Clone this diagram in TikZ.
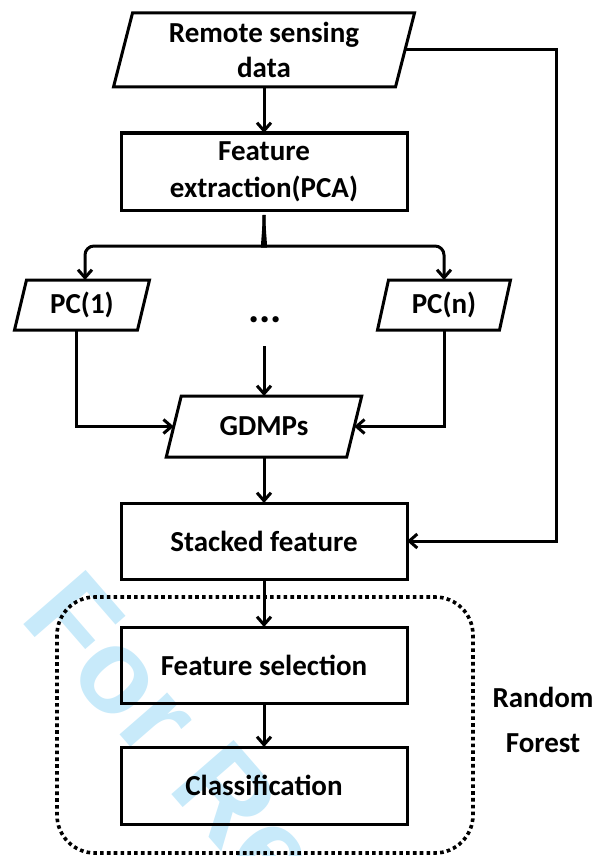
\documentclass[tikz,border=0pt]{standalone}
\usepackage{fontspec}
\setmainfont{Carlito}
\newfontfamily\wmfont{Liberation Sans}
\usetikzlibrary{arrows.meta,calc}
\definecolor{wmblue}{RGB}{200,234,250}
\newcommand\paradraw[2]{\draw[line width=3pt, line join=miter] ([xshift=#2]#1.north west) -- ([xshift=#2]#1.north east) -- ([xshift=-#2]#1.south east) -- ([xshift=-#2]#1.south west) -- cycle;}
\begin{document}
\begin{tikzpicture}[x=1pt,y=-1pt,
  every node/.style={font=\bfseries\fontsize{29}{35}\selectfont, align=center, inner sep=0pt, outer sep=0pt},
  boxnode/.style={draw, line width=3pt, minimum width=286pt, minimum height=76pt},
  paranode/.style={minimum width=#1},
  arr/.style={line width=3pt, -{Straight Barb[length=8pt,width=14pt]}},
  conn/.style={line width=3pt},
  dotbox/.style={line width=3.6pt, dash pattern=on 3.6pt off 3.2pt, rounded corners=38pt},
]
\useasboundingbox (0,0) rectangle (594,856);
% watermark
\begin{scope}
\clip (0,0) rectangle (594,856);
\node[font=\wmfont\bfseries\fontsize{120}{120}\selectfont, text=wmblue, rotate=-49, anchor=base west] (wm) at (18,618) {For Re};
\end{scope}

% nodes
\node[paranode=282pt, minimum height=74pt] (rs) at (264,50) {Remote sensing\\data};
\paradraw{rs}{9.5pt}
\node[boxnode, minimum height=77pt, font=\bfseries\fontsize{29}{37}\selectfont] (fe) at (264,171.5) {Feature\\extraction(PCA)};
\node[paranode=123pt, minimum height=50pt] (pc1) at (82,305) {PC(1)};
\paradraw{pc1}{6pt}
\node[paranode=122pt, minimum height=50pt] (pcn) at (444,305) {PC(n)};
\paradraw{pcn}{5.5pt}
\node[font=\bfseries\fontsize{42}{42}\selectfont] (dots) at (265,320) {...};
\node[paranode=180.5pt, minimum height=61pt] (gd) at (264,426.5) {GDMPs};
\paradraw{gd}{7.5pt}
\node[boxnode] (sf) at (264,541) {Stacked feature};
\node[boxnode] (fs) at (264,665) {Feature selection};
\node[boxnode, minimum height=77pt] (cl) at (264,785.5) {Classification};
\node[font=\bfseries\fontsize{29}{45}\selectfont] (rf) at (543,720) {Random\\Forest};

\draw[dotbox] (57,597) rectangle (473,853);

% coordinates
\coordinate (cusp) at (264,215);
\coordinate (bend) at (556,541);
\coordinate (dd) at (264,346);

% connectors
\draw[arr] (rs.south) -- (fe.north);
\draw[arr, rounded corners=9pt] (cusp) .. controls (264,238) and (261,246) .. (255,246) -- (85,246) -- ([xshift=3pt]pc1.north);
\draw[arr, rounded corners=9pt] (cusp) .. controls (264,238) and (267,246) .. (273,246) -- (444,246) -- (pcn.north);
\draw[arr] ([xshift=-6pt]pc1.south) |- (gd.west);
\draw[arr] (pcn.south) |- (gd.east);
\draw[arr] (dd) -- (gd.north);
\draw[arr] (gd.south) -- (sf.north);
\draw[arr] (rs.east) -| (bend) -- (sf.east);
\draw[arr] (sf.south) -- (fs.north);
\draw[arr] (fs.south) -- (cl.north);
\end{tikzpicture}
\end{document}
